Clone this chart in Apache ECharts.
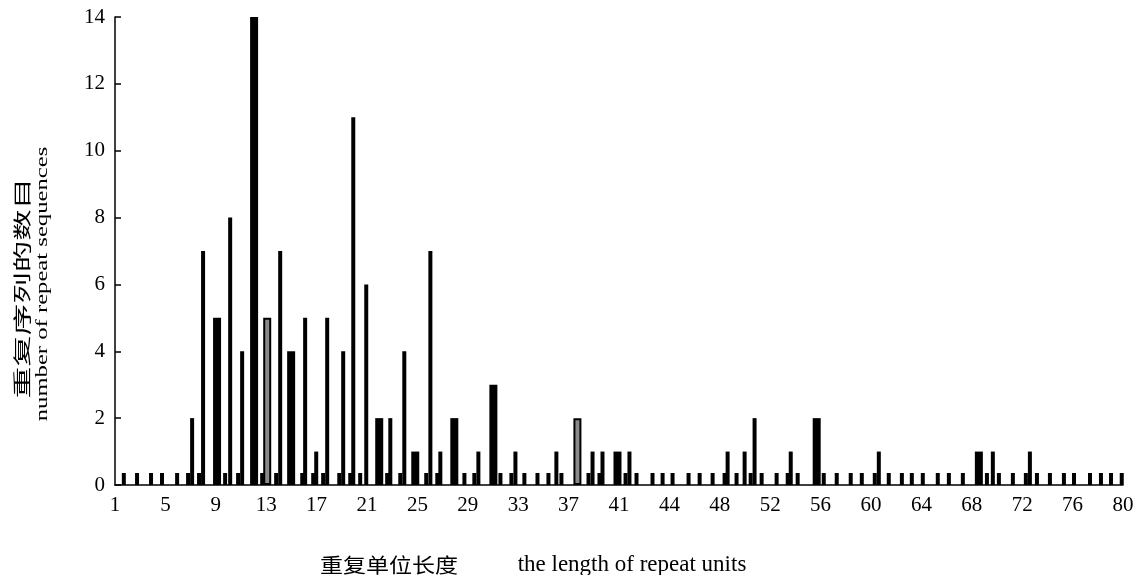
<!DOCTYPE html>
<html>
<head>
<meta charset="utf-8">
<script src="https://cdn.jsdelivr.net/npm/echarts@6/dist/echarts.min.js"></script>
<style>
  html, body { margin: 0; padding: 0; background: #fff; }
  #chart { width: 1137px; height: 575px; }
</style>
</head>
<body>
<div id="chart"></div>
<script>
// x axis: 81 evenly spaced positions (0..80), every 4th one labelled
const xTickLabels = ['1', '5', '9', '13', '17', '21', '25', '29', '33', '37', '41',
  '44', '48', '52', '56', '60', '64', '68', '72', '76', '80'];

// positions (in axis units) of the short marks drawn for a zero count
const zeroPos = [0.7, 1.75, 2.86, 3.73, 4.93, 5.8, 6.67, 8.74, 9.77, 11.68, 12.79, 14.86,
  15.73, 16.52, 17.8, 18.67, 19.46, 21.6, 22.64, 24.7, 25.58, 27.73, 28.52, 30.59, 31.46,
  32.49, 33.53, 34.4, 35.43, 37.58, 38.45, 40.52, 41.39, 42.66, 43.46, 44.25, 45.52, 46.4,
  47.43, 48.38, 49.33, 50.45, 51.32, 52.51, 53.39, 54.18, 56.25, 57.28, 58.39, 59.27, 60.3,
  61.41, 62.45, 63.24, 64.11, 65.3, 66.18, 67.29, 69.2, 70.15, 71.26, 72.29, 73.17, 74.2,
  75.31, 76.11, 77.38, 78.25, 79.05, 79.9];

// narrow bars
const thinPos = [6.12, 6.99, 9.14, 10.09, 13.11, 15.09, 15.97, 16.84, 18.11, 18.91, 19.94,
  21.85, 22.96, 25.03, 25.82, 28.84, 31.78, 35.03, 37.9, 38.69, 40.83, 48.62, 49.97, 50.76,
  53.63, 60.62, 69.67, 72.61];
const thinCounts = [2, 7, 8, 4, 7, 5, 1, 5, 4, 11, 6,
  2, 4, 7, 1, 1, 1, 1, 1, 1, 1, 1, 1, 2,
  1, 1, 1, 1];

// wide bars
const widePos = [8.1, 11.04, 12.08, 13.98, 20.97, 23.83, 26.93, 30.03, 36.7, 39.88, 55.69, 68.56];
const wideCounts = [5, 14, 5, 4, 2, 1, 2, 3, 2, 1, 2, 1];
// wide bars drawn with a grey fill
const greyPos = [12.08, 36.7];

const serif = '"Liberation Serif", "Times New Roman", serif';
const cjk = '"Noto Sans CJK SC", sans-serif';

const chart = echarts.init(document.getElementById('chart'));

const xBase = {
  type: 'value',
  min: 0,
  max: 80,
  interval: 4,
  splitLine: { show: false },
  axisTick: { show: false }
};

const option = {
  animation: false,
  backgroundColor: '#fff',
  grid: { left: 115, right: 14, top: 17, bottom: 90 },
  xAxis: [
    {
      ...xBase,
      axisLine: { lineStyle: { color: '#000', width: 1.5 } },
      axisLabel: {
        color: '#000',
        fontFamily: serif,
        fontSize: 21,
        margin: 10,
        formatter: v => xTickLabels[Math.round(v / 4)] || ''
      }
    },
    { ...xBase, show: false }
  ],
  yAxis: {
    type: 'value',
    min: 0,
    max: 14,
    interval: 2,
    splitLine: { show: false },
    axisLine: { show: true, lineStyle: { color: '#000', width: 1.5 } },
    axisTick: { show: true, inside: true, length: 6, lineStyle: { color: '#000', width: 1.5 } },
    axisLabel: { color: '#000', fontFamily: serif, fontSize: 21, margin: 10 }
  },
  series: [
    {
      type: 'bar',
      xAxisIndex: 0,
      barWidth: 4,
      barMinHeight: 12,
      itemStyle: { color: '#000' },
      data: zeroPos.map(p => [p, 0]).concat(thinPos.map((p, i) => [p, thinCounts[i]]))
    },
    {
      type: 'bar',
      xAxisIndex: 1,
      barWidth: 8,
      itemStyle: { color: '#000' },
      data: widePos.map((p, i) => {
        const item = { value: [p, wideCounts[i]] };
        if (greyPos.includes(p)) {
          item.itemStyle = { color: '#8a8a8a', borderColor: '#000', borderWidth: 2 };
        }
        return item;
      })
    }
  ],
  graphic: [
    {
      type: 'text', x: 22, y: 288, rotation: Math.PI / 2,
      style: { text: '重复序列的数目', font: '18px ' + cjk, fill: '#000', align: 'center', verticalAlign: 'middle' },
      scaleX: 1.75
    },
    {
      type: 'text', x: 43, y: 284, rotation: Math.PI / 2,
      style: { text: 'number of repeat sequences', font: '17px ' + serif, fill: '#000', align: 'center', verticalAlign: 'middle' },
      scaleX: 1.45
    },
    {
      type: 'text', x: 389, y: 565,
      style: { text: '重复单位长度', font: '20px ' + cjk, fill: '#000', align: 'center', verticalAlign: 'middle' },
      scaleX: 1.15
    },
    {
      type: 'text', x: 632, y: 565,
      style: { text: 'the length of repeat units', font: '23px ' + serif, fill: '#000', align: 'center', verticalAlign: 'middle' }
    }
  ]
};

chart.setOption(option);
</script>
</body>
</html>
